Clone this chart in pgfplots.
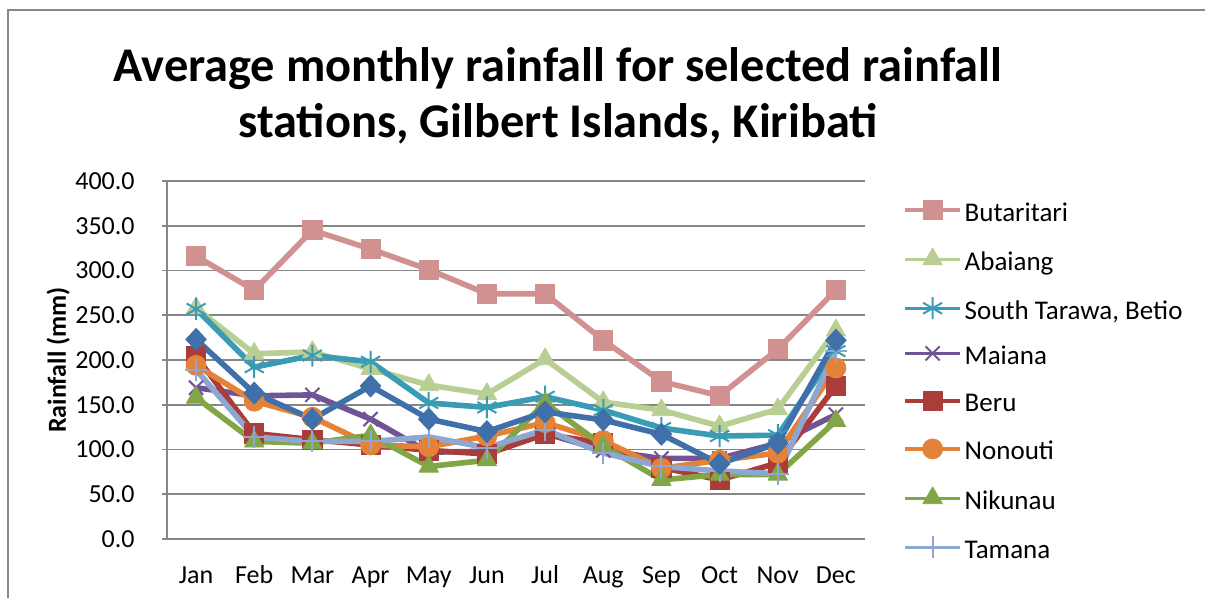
\documentclass[border=0pt]{standalone}
\usepackage{fontspec}
\setmainfont{Carlito}
\usepackage{pgfplots}
\pgfplotsset{compat=1.18}
\definecolor{gridgray}{RGB}{134,134,134}
\definecolor{cBut}{RGB}{210,145,145}
\definecolor{cAba}{RGB}{184,206,146}
\definecolor{cTar}{RGB}{58,156,180}
\definecolor{cMai}{RGB}{112,84,150}
\definecolor{cBer}{RGB}{170,60,58}
\definecolor{cNon}{RGB}{228,130,56}
\definecolor{cNik}{RGB}{130,165,70}
\definecolor{cTam}{RGB}{140,168,210}
\definecolor{cBlu}{RGB}{64,112,170}
\begin{document}
\begin{tikzpicture}
\useasboundingbox (-83.5pt,-29.5pt) rectangle (519pt,269.5pt);
\draw[color=gridgray, line width=1pt] (-79.5pt,-29.5pt) -- (-79.5pt,264.5pt) -- (519pt,264.5pt);
\node[font=\fontsize{24.2}{28}\selectfont\bfseries, anchor=base] at (195.5pt,228.5pt) {Average monthly rainfall for selected rainfall};
\node[font=\fontsize{24.2}{28}\selectfont\bfseries, anchor=base] at (195.5pt,200.5pt) {stations, Gilbert Islands, Kiribati};
\begin{axis}[
  at={(0,0)}, anchor=south west, scale only axis,
  width=349pt, height=179pt,
  xmin=-0.5, xmax=11.5, ymin=0, ymax=400,
  xtick={0,...,11},
  xticklabels={Jan,Feb,Mar,Apr,May,Jun,Jul,Aug,Sep,Oct,Nov,Dec},
  ytick={0,50,...,400},
  axis x line=bottom, axis y line=left,
  axis line style={color=gridgray, line width=0.9pt, -},
  ymajorgrids, grid style={color=gridgray, line width=0.9pt},
  tick align=outside, major tick length=2.5pt,
  xtick style={draw=none},
  ytick style={color=gridgray, line width=0.9pt},
  /pgf/number format/assume math mode=true,
  yticklabel={\pgfmathprintnumber[fixed, fixed zerofill, precision=1]{\tick}},
  ticklabel style={font=\fontsize{13}{15}\selectfont},
  yticklabel style={anchor=east, inner sep=0pt, xshift=-13.5pt},
  xticklabel style={anchor=base, yshift=-20pt},
  ylabel={Rainfall (mm)},
  every axis y label/.style={at={(axis description cs:-0.156,0.5)}, rotate=90, anchor=center, font=\fontsize{13}{15}\selectfont\bfseries},
  clip=false,
  every axis plot/.append style={line width=2.8pt, line join=round},
  legend style={at={(rel axis cs:1.046,0.958)}, anchor=north west, draw=none, fill=none,
    font=\fontsize{13.5}{15}\selectfont, row sep=10pt,
    nodes={inner sep=0pt, text height=8.5pt, text depth=3.5pt}},
  legend cell align=left,
  /tikz/every odd column/.append style={column sep=1.5pt},
  legend image code/.code={\draw[#1, line width=1.6pt, mark repeat=2, mark phase=2] plot coordinates {(0pt,3pt) (13.75pt,3pt) (27.5pt,3pt)};},
]
\addplot[color=cBut, mark=square*, mark size=4.8pt, mark options={line width=0.4pt}] coordinates {
(0,316) (1,278) (2,345) (3,324) (4,301) (5,274) (6,274) (7,222) (8,176) (9,160) (10,212) (11,278)};
\addlegendentry{Butaritari}
\addplot[color=cAba, mark=triangle*, mark size=5.6pt, mark options={line width=0.4pt}] coordinates {
(0,258) (1,207) (2,209) (3,190) (4,172) (5,162) (6,201) (7,153) (8,144) (9,126) (10,145) (11,233)};
\addlegendentry{Abaiang}
\addplot[color=cTar, mark=asterisk, mark size=5.5pt, mark options={line width=1pt}] coordinates {
(0,257) (1,192) (2,205) (3,198) (4,152) (5,147) (6,159) (7,144) (8,124) (9,115) (10,116) (11,210)};
\addlegendentry{South Tarawa, Betio}
\addplot[color=cMai, mark=x, mark size=5pt, mark options={line width=1pt}] coordinates {
(0,169) (1,160) (2,161) (3,134) (4,97) (5,98) (6,118) (7,99) (8,90) (9,90) (10,107) (11,139)};
\addlegendentry{Maiana}
\addplot[color=cBer, mark=square*, mark size=4.8pt, mark options={line width=0.4pt}] coordinates {
(0,204) (1,118) (2,111) (3,105) (4,99) (5,95) (6,117) (7,107) (8,80) (9,66) (10,85) (11,171)};
\addlegendentry{Beru}
\addplot[color=cNon, mark=*, mark size=5pt, mark options={line width=0.4pt}] coordinates {
(0,194) (1,154) (2,136) (3,105) (4,103) (5,115) (6,130) (7,110) (8,79) (9,88) (10,96) (11,191)};
\addlegendentry{Nonouti}
\addplot[color=cNik, mark=triangle*, mark size=5.6pt, mark options={line width=0.4pt}] coordinates {
(0,158) (1,109) (2,107) (3,116) (4,81) (5,88) (6,152) (7,104) (8,66) (9,72) (10,72) (11,132)};
\addlegendentry{Nikunau}
\addplot[color=cTam, mark=+, mark size=5.5pt, mark options={line width=1pt}] coordinates {
(0,189) (1,114) (2,109) (3,109) (4,114) (5,102) (6,122) (7,96) (8,81) (9,76) (10,73) (11,210)};
\addlegendentry{Tamana}
\addplot[color=cBlu, mark=diamond*, mark size=5.5pt, mark options={line width=0.4pt, xscale=1.25}, forget plot] coordinates {
(0,223) (1,163) (2,134) (3,171) (4,134) (5,120) (6,142) (7,133) (8,117) (9,84) (10,107) (11,222)};
\end{axis}
\end{tikzpicture}
\end{document}
